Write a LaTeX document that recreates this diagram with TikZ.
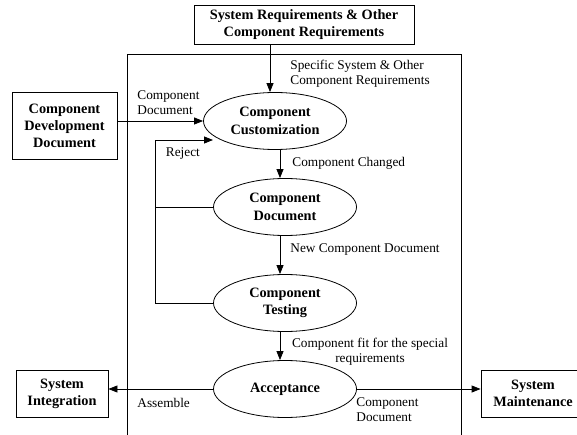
\documentclass[tikz,border=0pt]{standalone}
\usepackage{fontspec}
\setmainfont{Liberation Serif}
\usetikzlibrary{shapes.geometric,arrows.meta}
\begin{document}
\begin{tikzpicture}[x=1pt, y=-1pt, line width=0.8pt, >={Triangle[length=9pt,width=7pt]},
    box/.style = {draw, align=center, inner sep=0pt, font=\fontsize{14.3}{17}\selectfont\bfseries},
    proc/.style = {draw, ellipse, minimum width=143pt, minimum height=57pt, inner sep=0pt, align=center, font=\fontsize{14.3}{17.5}\selectfont\bfseries},
    lbl/.style = {inner sep=0pt, align=left, font=\fontsize{13.3}{15}\selectfont}]
    \useasboundingbox (0,0) rectangle (577,435);
    \clip (0,0) rectangle (577,435);
    \draw (127,440) |- (461,54) -- (461,440);
    \node[box, minimum width=220pt, minimum height=39pt] (req) at (304,24.5) {System Requirements \& Other\\Component Requirements};
    \node[box, minimum width=105pt, minimum height=67pt] (dev) at (64.5,125.5) {Component\\Development\\Document};
    \node[proc] (cust) at (275,121) {Component\\Customization};
    \node[proc] (doc) at (285,207) {Component\\Document};
    \node[proc] (test) at (285,303) {Component\\Testing};
    \node[proc] (acc) at (285,389) {Acceptance};
    \node[box, minimum width=92pt, minimum height=47pt] (integ) at (62,393.5) {System\\Integration};
    \node[box, minimum width=104pt, minimum height=47pt] (maint) at (533,393.5) {System\\Maintenance};
    \coordinate (feed) at (270,0);
    \coordinate (spine) at (280,0);
    \coordinate (loop) at (155.5,0);
    \coordinate (rj) at (213,140);
    \draw[->] (req.south -| feed) -- (cust.north -| feed);
    \draw[->] (dev.east |- cust) -- (cust.west);
    \draw[->] (cust.south -| spine) -- (doc.north -| spine);
    \draw[->] (doc.south -| spine) -- (test.north -| spine);
    \draw[->] (test.south -| spine) -- (acc.north -| spine);
    \draw (doc.west) -- (doc.west -| loop);
    \draw[->] (test.west) -| (loop |- rj) -- (rj);
    \draw[->] (acc.west) -- (integ.east |- acc);
    \draw[->] (acc.east) -- (maint.west |- acc);
    \node[lbl, anchor=west] (specL) at (290,73.5) {Specific System \& Other\\Component Requirements};
    \node[lbl, anchor=west] (cdocL) at (137,102.5) {Component\\Document};
    \node[lbl, anchor=west] (rejL) at (165.5,154) {Reject};
    \node[lbl, anchor=west] (chgL) at (292,163) {Component Changed};
    \node[lbl, anchor=west] (newL) at (290,250) {New Component Document};
    \node[lbl, align=center] (fitL) at (370,351.5) {Component fit for the special\\requirements};
    \node[lbl, anchor=west] (asmL) at (137,403) {Assemble};
    \node[lbl, anchor=west] (outL) at (356,409.5) {Component\\Document};
\end{tikzpicture}
\end{document}
